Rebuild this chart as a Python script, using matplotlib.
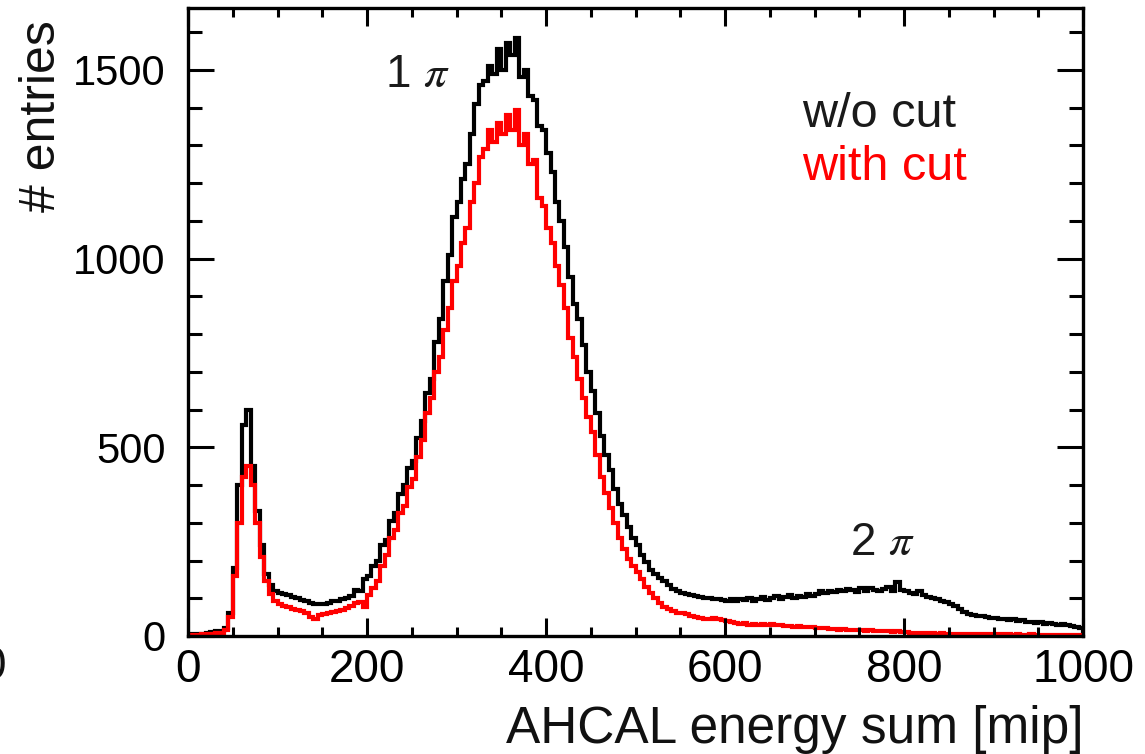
import numpy as np
import matplotlib
matplotlib.use("Agg")
import matplotlib.pyplot as plt
from matplotlib.ticker import MultipleLocator

plt.rcParams['font.family'] = ['Liberation Sans', 'DejaVu Sans']
plt.rcParams['mathtext.fontset'] = 'stix'

# AHCAL energy sum histograms, 5 mip bins from 0 to 1000
bin_edges = np.arange(0, 1001, 5)

no_cut = [
    3, 4, 5, 6, 8, 10, 12, 14, 20, 60,
    180, 400, 560, 600, 450, 330, 240, 165, 135, 118,
    115, 110, 108, 104, 100, 96, 92, 88, 86, 84,
    86, 88, 92, 94, 98, 102, 106, 122, 118, 150,
    160, 185, 200, 240, 255, 305, 325, 375, 400, 445,
    465, 525, 570, 645, 680, 780, 840, 940, 1010, 1110,
    1150, 1210, 1250, 1330, 1410, 1460, 1470, 1510, 1490, 1555,
    1500, 1570, 1540, 1585, 1480, 1500, 1430, 1420, 1350, 1340,
    1280, 1230, 1150, 1100, 1030, 950, 880, 840, 770, 700,
    650, 590, 530, 480, 440, 390, 350, 320, 290, 260,
    240, 215, 195, 175, 165, 155, 145, 135, 125, 120,
    115, 110, 108, 105, 103, 101, 100, 98, 97, 95,
    94, 97, 92, 99, 95, 101, 93, 98, 104, 96,
    100, 106, 98, 103, 108, 101, 107, 104, 110, 106,
    112, 118, 114, 120, 116, 122, 118, 124, 121, 117,
    126, 120, 128, 123, 119, 125, 130, 118, 142, 122,
    118, 115, 112, 120, 108, 104, 100, 98, 94, 90,
    86, 80, 72, 64, 58, 55, 52, 54, 50, 48,
    48, 45, 46, 42, 44, 40, 42, 38, 36, 35,
    37, 33, 34, 31, 30, 32, 28, 27, 25, 22,
]

with_cut = [
    1, 2, 3, 4, 5, 6, 7, 9, 15, 50,
    160, 300, 420, 450, 400, 300, 210, 145, 110, 92,
    86, 80, 76, 72, 70, 66, 62, 50, 45, 55,
    58, 60, 64, 66, 70, 74, 80, 88, 90, 78,
    108, 128, 145, 185, 215, 260, 280, 325, 345, 395,
    415, 475, 520, 590, 630, 700, 740, 810, 870, 940,
    980, 1040, 1080, 1150, 1200, 1270, 1290, 1340, 1310, 1360,
    1330, 1380, 1340, 1395, 1300, 1330, 1250, 1260, 1160, 1140,
    1080, 1040, 980, 930, 870, 790, 740, 680, 630, 580,
    540, 480, 420, 380, 340, 300, 260, 230, 205, 185,
    170, 150, 130, 115, 100, 88, 78, 72, 66, 62,
    60, 57, 54, 50, 48, 46, 45, 47, 44, 42,
    40, 37, 34, 32, 35, 30, 33, 30, 32, 29,
    31, 28, 30, 26, 27, 25, 26, 24, 25, 23,
    22, 20, 21, 18, 19, 17, 18, 16, 17, 15,
    16, 14, 15, 13, 14, 12, 13, 11, 12, 10,
    10, 9, 8, 9, 7, 8, 7, 6, 7, 6,
    6, 5, 6, 5, 5, 4, 5, 4, 4, 5,
    4, 5, 4, 4, 3, 4, 3, 3, 4, 3,
    3, 3, 2, 3, 3, 2, 3, 2, 2, 2,
]

fig = plt.figure(figsize=(11.45, 7.54), dpi=100)
ax = fig.add_axes([0.1642, 0.1565, 0.7817, 0.8329])

ax.stairs(no_cut, bin_edges, color='black', lw=3.0)
ax.stairs(with_cut, bin_edges, color='red', lw=3.0)

ax.set_xlim(0, 1000)
ax.set_ylim(0, 1664)

ax.xaxis.set_major_locator(MultipleLocator(200))
ax.xaxis.set_minor_locator(MultipleLocator(50))
ax.yaxis.set_major_locator(MultipleLocator(500))
ax.yaxis.set_minor_locator(MultipleLocator(100))

ax.tick_params(axis='both', which='both', direction='in', top=True, right=True,
               width=2.2, color='black')
ax.tick_params(axis='x', which='major', length=13, pad=9, labelsize=33)
ax.tick_params(axis='x', which='minor', length=6.5)
ax.tick_params(axis='y', which='major', length=19, pad=16, labelsize=30)
ax.tick_params(axis='y', which='minor', length=10)
for s in ax.spines.values():
    s.set_linewidth(2.4)

ax.text(1.0, -0.170, 'AHCAL energy sum [mip]', transform=ax.transAxes,
        ha='right', va='baseline', fontsize=37, color='#111111')
ax.text(-0.163, 0.981, '# entries', transform=ax.transAxes, rotation=90,
        ha='center', va='top', fontsize=36, color='#111111')

ax.text(220, 1455, r'1 $\pi$', fontsize=33, ha='left', va='baseline', color='#1a1a1a')
ax.text(740, 215, r'2 $\pi$', fontsize=33, ha='left', va='baseline', color='#1a1a1a')
ax.text(686, 1349, 'w/o cut', fontsize=35, ha='left', va='baseline', color='#1a1a1a')
ax.text(686, 1209, 'with cut', fontsize=35, ha='left', va='baseline', color='red')

# clipped tick label of the neighbouring panel at the left edge
fig.text(-0.006, 0.116, '0', fontsize=33, ha='center', va='center', color='#111111')

fig.savefig('out.png', dpi=100)
